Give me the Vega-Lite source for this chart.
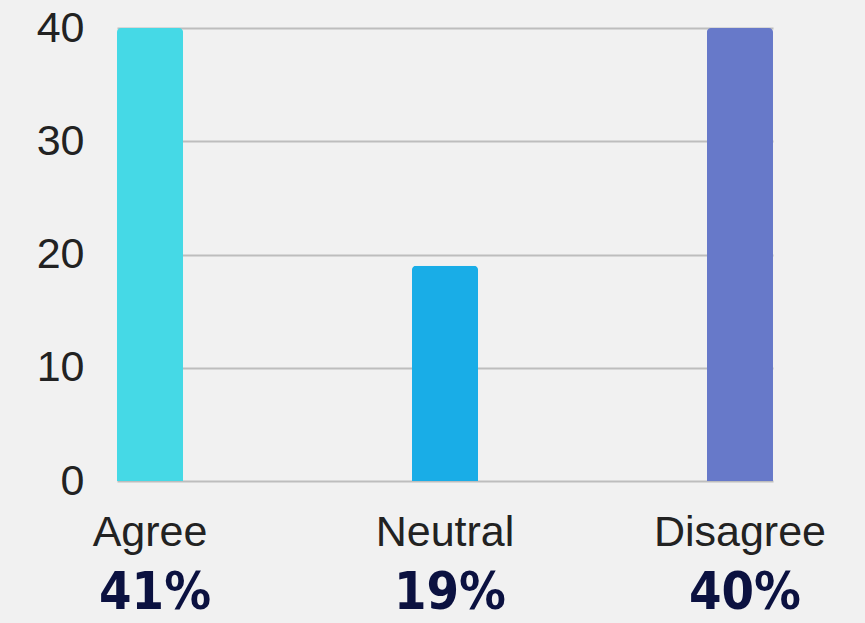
{
  "$schema": "https://vega.github.io/schema/vega-lite/v6.json",
  "width": 656,
  "height": 453,
  "autosize": {"type": "none"},
  "padding": {"left": 117, "top": 28, "right": 92, "bottom": 142},
  "background": "#f1f1f1",
  "config": {
    "view": {"stroke": null},
    "font": "Liberation Sans"
  },
  "data": {
    "values": [
      {"response": "Agree", "value": 41, "pct": "41%"},
      {"response": "Neutral", "value": 19, "pct": "19%"},
      {"response": "Disagree", "value": 40, "pct": "40%"}
    ]
  },
  "encoding": {
    "x": {
      "field": "response",
      "type": "nominal",
      "sort": null,
      "scale": {"paddingInner": 0.776, "paddingOuter": 0},
      "axis": {
        "title": null,
        "domain": false,
        "ticks": false,
        "labelAngle": 0,
        "labelFontSize": 43,
        "labelColor": "#222222",
        "labelPadding": 30
      }
    }
  },
  "layer": [
    {
      "mark": {"type": "bar", "cornerRadiusTopLeft": 4, "cornerRadiusTopRight": 4},
      "encoding": {
        "y": {
          "field": "value",
          "type": "quantitative",
          "scale": {"domain": [0, 40], "clamp": true, "nice": false},
          "axis": {
            "title": null,
            "values": [0, 10, 20, 30, 40],
            "domain": false,
            "ticks": false,
            "labelFontSize": 43,
            "labelColor": "#222222",
            "labelPadding": 33,
            "gridColor": "#bdbdbd",
            "gridWidth": 2
          }
        },
        "color": {
          "field": "response",
          "type": "nominal",
          "sort": null,
          "scale": {
            "domain": ["Agree", "Neutral", "Disagree"],
            "range": ["#45d9e6", "#19ade7", "#6779c9"]
          },
          "legend": null
        }
      }
    },
    {
      "mark": {
        "type": "text",
        "font": "DejaVu Sans Condensed, DejaVu Sans",
        "fontWeight": "bold",
        "fontSize": 52,
        "color": "#0b1140",
        "baseline": "alphabetic",
        "align": "center",
        "dy": 128,
        "dx": 5,
        "clip": false
      },
      "encoding": {
        "y": {"datum": 0, "type": "quantitative"},
        "text": {"field": "pct"}
      }
    }
  ]
}
